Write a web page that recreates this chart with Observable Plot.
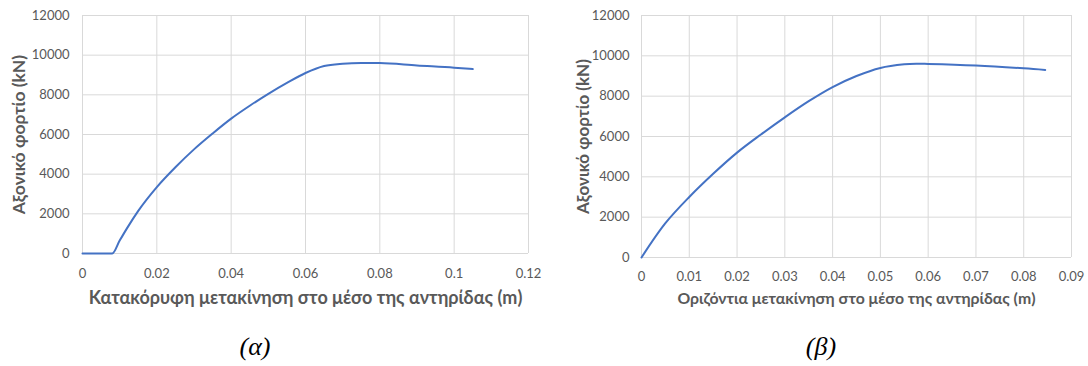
<!DOCTYPE html>
<html>
<head>
<meta charset="utf-8">
<script src="https://cdn.jsdelivr.net/npm/d3@7"></script>
<script src="https://cdn.jsdelivr.net/npm/@observablehq/plot@0.6"></script>
<style>
  html, body { margin: 0; padding: 0; background: #fff; }
  #wrap { position: relative; width: 1088px; height: 366px; overflow: hidden; background: #fff; }
  .panel { position: absolute; top: 0; }
  .cap { position: absolute; font-family: "Liberation Serif", "DejaVu Serif", serif; font-style: italic; font-size: 26px; color: #000; transform: translateX(-50%); white-space: nowrap; }
  svg text { font-family: Lato, "Open Sans", sans-serif; }
</style>
</head>
<body>
<div id="wrap">
  <div id="pa" class="panel" style="left:0px"></div>
  <div id="pb" class="panel" style="left:544px"></div>
  <div class="cap" style="left:255px; top:332px">(α)</div>
  <div class="cap" style="left:821px; top:332px">(β)</div>
</div>
<script>
// (α) vertical displacement vs axial load
const dispA = [0, 0.008, 0.010, 0.012, 0.015, 0.020, 0.025, 0.030, 0.035, 0.040, 0.045, 0.050, 0.055, 0.060, 0.065, 0.070, 0.075, 0.080, 0.090, 0.100, 0.105];
const loadA = [0, 0, 650, 1280, 2150, 3350, 4350, 5250, 6050, 6800, 7450, 8050, 8600, 9100, 9450, 9570, 9610, 9600, 9480, 9370, 9300];
// (β) horizontal displacement vs axial load
const dispB = [0, 0.005, 0.010, 0.015, 0.020, 0.025, 0.030, 0.035, 0.040, 0.045, 0.050, 0.055, 0.0575, 0.060, 0.070, 0.080, 0.0845];
const loadB = [0, 1700, 3000, 4150, 5200, 6100, 6950, 7750, 8450, 9000, 9400, 9580, 9610, 9600, 9520, 9380, 9300];

const xTicksA = [0, 0.02, 0.04, 0.06, 0.08, 0.1, 0.12];
const xTicksB = [0, 0.01, 0.02, 0.03, 0.04, 0.05, 0.06, 0.07, 0.08, 0.09];
const yTicks = [0, 2000, 4000, 6000, 8000, 10000, 12000];

const yLabel = "Αξονικό φορτίο (kN)";
const xLabelA = "Κατακόρυφη μετακίνηση στο μέσο της αντηρίδας (m)";
const xLabelB = "Οριζόντια μετακίνηση στο μέσο της αντηρίδας (m)";

const gray = "#595959";
const gridC = "#d9d9d9";
const lineC = "#4472C4";

function makeChart(xs, ys, xTicks, xMax, xLabel, opts) {
  const data = xs.map((x, i) => ({x, y: ys[i]}));
  return Plot.plot({
    width: 544,
    height: 310,
    marginLeft: opts.ml,
    marginRight: opts.mr,
    marginTop: 15,
    marginBottom: opts.mb,
    style: {fontFamily: "Lato, 'Open Sans', sans-serif", fontSize: "13px", color: gray, background: "white"},
    x: {domain: [0, xMax], ticks: xTicks, label: null},
    y: {domain: [0, 12000], ticks: yTicks, label: null},
    marks: [
      Plot.gridX(xTicks, {stroke: gridC, strokeOpacity: 1, strokeWidth: 1}),
      Plot.gridY(yTicks, {stroke: gridC, strokeOpacity: 1, strokeWidth: 1}),
      Plot.axisX(xTicks, {tickSize: 0, tickPadding: opts.xpad, fill: gray, tickFormat: d => String(d), label: null}),
      Plot.axisY(yTicks, {tickSize: 0, tickPadding: opts.ypad, fill: gray, tickFormat: d => String(d), label: null}),
      Plot.line(data, {x: "x", y: "y", stroke: lineC, strokeWidth: 2, curve: opts.curve}),
      Plot.text([xLabel], {frameAnchor: "bottom", dy: opts.xdy, text: d => d, fill: gray, fontWeight: "bold", fontSize: opts.xfs, textAnchor: "middle", lineAnchor: "middle"}),
      Plot.text([yLabel], {frameAnchor: "left", dx: opts.ydx, text: d => d, fill: gray, fontWeight: "bold", fontSize: opts.yfs, rotate: -90, textAnchor: "middle", lineAnchor: "middle"})
    ]
  });
}

document.getElementById("pa").appendChild(
  makeChart(dispA, loadA, xTicksA, 0.12, xLabelA, {ml: 82, mr: 16, mb: 57, xpad: 15, ypad: 13, xdy: 45, ydx: -63, xfs: 18, yfs: 17.5, curve: "monotone-x"})
);
document.getElementById("pb").appendChild(
  makeChart(dispB, loadB, xTicksB, 0.09, xLabelB, {ml: 97, mr: 17, mb: 53, xpad: 14, ypad: 12, xdy: 41, ydx: -58, xfs: 15.8, yfs: 17, curve: "catmull-rom"})
);
</script>
</body>
</html>
